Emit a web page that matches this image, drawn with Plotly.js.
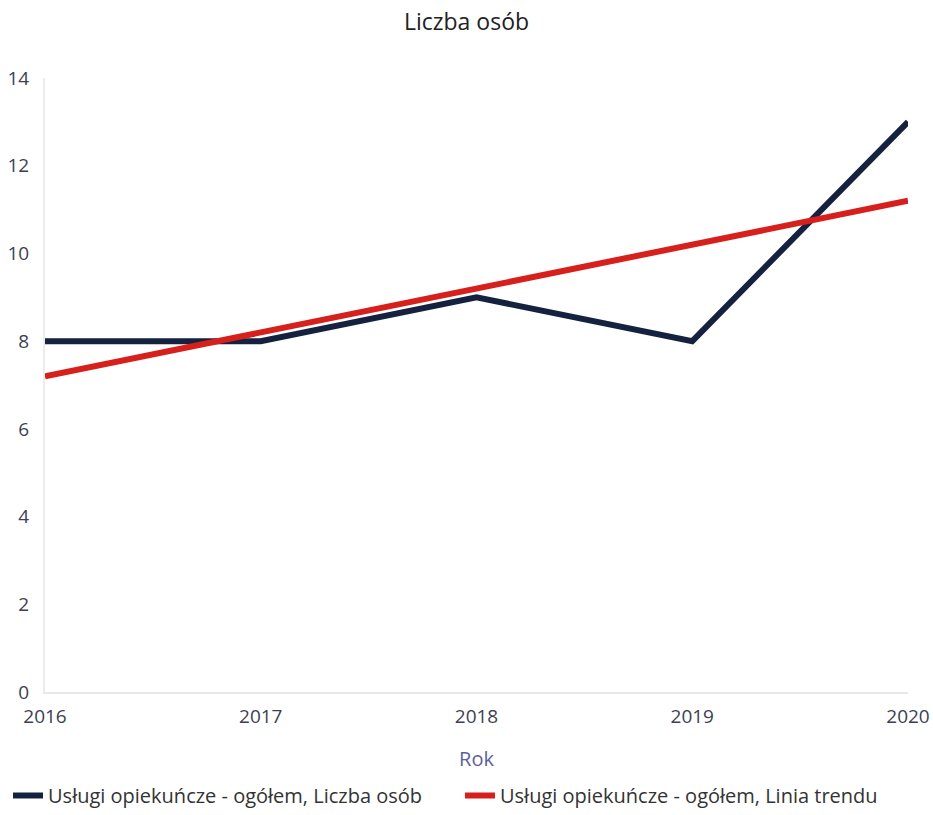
<!DOCTYPE html>
<html>
<head>
<meta charset="utf-8">
<script src="https://cdn.plot.ly/plotly-3.0.1.min.js"></script>
<style>html,body{margin:0;padding:0;background:#fff;}#chart{width:933px;height:815px;}</style>
</head>
<body>
<div id="chart"></div>
<script>
const years = [2016, 2017, 2018, 2019, 2020];
const liczbaOsob = [8, 8, 9, 8, 13];
const liniaTrendu = [7.2, 8.2, 9.2, 10.2, 11.2];
const seriesNames = ['Usługi opiekuńcze - ogółem, Liczba osób', 'Usługi opiekuńcze - ogółem, Linia trendu'];
const yTicks = [0, 2, 4, 6, 8, 10, 12, 14];

const font = 'Open Sans, Segoe UI, sans-serif';
const tickColor = '#3d3f52';
const traces = [
  {x: years, y: liczbaOsob, name: seriesNames[0], type: 'scatter', mode: 'lines',
   line: {color: '#15223f', width: 6}, legend: 'legend'},
  {x: years, y: liniaTrendu, name: seriesNames[1], type: 'scatter', mode: 'lines',
   line: {color: '#d71f1b', width: 6}, legend: 'legend2'}
];
const legendBase = {orientation: 'h', xanchor: 'left', xref: 'container', y: 0.0, yref: 'container',
                    yanchor: 'bottom', font: {size: 20, color: '#333'}, itemwidth: 30};
const layout = {
  width: 933, height: 815,
  margin: {l: 45, r: 25, t: 78, b: 123, autoexpand: false},
  paper_bgcolor: '#fff', plot_bgcolor: '#fff',
  font: {family: font, color: tickColor, size: 19},
  title: {text: 'Liczba osób', x: 0.5, xanchor: 'center', y: 0.973, yanchor: 'middle',
          font: {family: font, size: 23, color: '#222'}},
  xaxis: {range: [2016, 2020], tickvals: years, ticktext: years.map(String),
          showgrid: false, zeroline: false, showline: true, linecolor: '#e8e8e8', linewidth: 2,
          ticks: '', tickfont: {size: 19, color: tickColor}, ticklabeloverflow: 'allow',
          ticklabelstandoff: 6, automargin: false,
          title: {text: 'Rok', font: {size: 20, color: '#5c6199'}, standoff: 24}},
  yaxis: {range: [0, 14], tickvals: yTicks, showgrid: false, zeroline: false,
          showline: true, linecolor: '#ececec', linewidth: 2, ticks: '', automargin: false,
          tickfont: {size: 19, color: tickColor}, ticklabelstandoff: 10},
  legend: Object.assign({}, legendBase, {x: 0.0086}),
  legend2: Object.assign({}, legendBase, {x: 0.493}),
  showlegend: true
};
Plotly.newPlot('chart', traces, layout, {displayModeBar: false, staticPlot: true});
</script>
</body>
</html>
